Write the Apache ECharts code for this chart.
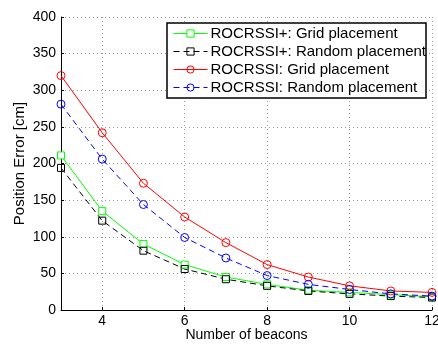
<!DOCTYPE html>
<html>
<head>
<meta charset="utf-8">
<script src="https://cdn.jsdelivr.net/npm/echarts@6/dist/echarts.min.js"></script>
<style>
html,body{margin:0;padding:0;background:#fff;}
#chart{width:438px;height:345px;}
</style>
</head>
<body>
<div id="chart"></div>
<script>
var beacons = [3, 4, 5, 6, 7, 8, 9, 10, 11, 12];
var xTicks = [4, 6, 8, 10, 12];
var plusGrid = [211, 135, 90, 62, 45, 35, 27, 24, 21, 18];
var plusRandom = [194, 122, 81, 56, 42, 33, 26, 22, 19, 17];
var baseGrid = [320, 242, 173, 127, 92, 62, 45, 33, 26, 24];
var baseRandom = [281, 206, 144, 99, 71, 47, 35, 28, 22, 19];
var seriesNames = ['ROCRSSI+: Grid placement', 'ROCRSSI+: Random placement', 'ROCRSSI: Grid placement', 'ROCRSSI: Random placement'];

function pairs(vals) {
	return beacons.map(function (b, i) { return [b, vals[i]]; });
}

var font = 'Liberation Sans, Arial, Helvetica, sans-serif';
var gridLine = { show: true, lineStyle: { color: '#999', type: [1, 3], width: 1 } };

var myChart = echarts.init(document.getElementById('chart'));
var option = {
	animation: false,
	grid: { left: 61, right: 6, top: 17, bottom: 35, outerBoundsMode: 'none', containLabel: false },
	legend: {
		orient: 'vertical',
		left: 167, top: 23,
		padding: [3, 0, 3, 6],
		itemWidth: 34, itemHeight: 9, itemGap: 3,
		backgroundColor: '#fff',
		borderColor: '#000', borderWidth: 1.5, borderRadius: 0,
		lineStyle: { width: 1 },
		itemStyle: { borderWidth: 1 },
		textStyle: { fontFamily: font, fontSize: 15, color: '#000', padding: [0, 0, 0, -2] },
		data: seriesNames
	},
	xAxis: {
		type: 'value', min: 3, max: 12,
		name: 'Number of beacons', nameLocation: 'middle', nameGap: 18, nameMoveOverlap: false,
		nameTextStyle: { fontFamily: font, fontSize: 14, color: '#000' },
		axisLine: { onZero: false, lineStyle: { color: '#000', width: 1 } },
		axisTick: { inside: true, length: 3, customValues: xTicks, lineStyle: { color: '#000' } },
		axisLabel: { customValues: xTicks, fontFamily: font, fontSize: 14, color: '#000', margin: 4 },
		splitLine: gridLine
	},
	yAxis: {
		type: 'value', min: 0, max: 400, interval: 50,
		name: 'Position Error [cm]', nameLocation: 'middle', nameGap: 34, nameMoveOverlap: false,
		nameTextStyle: { fontFamily: font, fontSize: 15, color: '#000' },
		axisLine: { show: true, lineStyle: { color: '#000', width: 1 } },
		axisTick: { show: true, inside: true, length: 3, lineStyle: { color: '#000' } },
		axisLabel: { fontFamily: font, fontSize: 14, color: '#000', margin: 5 },
		splitLine: gridLine
	},
	series: [
		{
			name: seriesNames[0], type: 'line', data: pairs(plusGrid),
			symbol: 'rect', symbolSize: 7, color: '#00ff00',
			itemStyle: { color: '#fff', borderColor: '#00ff00', borderWidth: 1 },
			lineStyle: { color: '#00ff00', width: 1 }
		},
		{
			name: seriesNames[1], type: 'line', data: pairs(plusRandom),
			symbol: 'rect', symbolSize: 7, color: '#000',
			itemStyle: { color: 'transparent', borderColor: '#000', borderWidth: 1 },
			lineStyle: { color: '#000', width: 1, type: [6, 4] }
		},
		{
			name: seriesNames[2], type: 'line', data: pairs(baseGrid),
			symbol: 'circle', symbolSize: 8, color: '#ff0000',
			itemStyle: { color: 'transparent', borderColor: '#ff0000', borderWidth: 1 },
			lineStyle: { color: '#ff0000', width: 1 }
		},
		{
			name: seriesNames[3], type: 'line', data: pairs(baseRandom),
			symbol: 'circle', symbolSize: 8, color: '#0000ff',
			itemStyle: { color: 'transparent', borderColor: '#0000ff', borderWidth: 1 },
			lineStyle: { color: '#0000ff', width: 1, type: [6, 4] }
		}
	]
};
myChart.setOption(option);
</script>
</body>
</html>
